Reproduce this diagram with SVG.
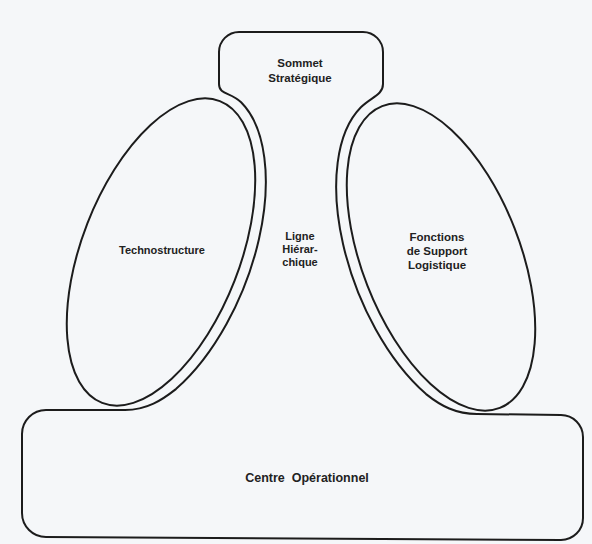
<svg xmlns="http://www.w3.org/2000/svg" width="592" height="544" viewBox="0 0 592 544">
  <style>
    .ln { fill: none; stroke: #1c1c1c; stroke-width: 2; stroke-linejoin: round; }
    .lbl { font-family: "Liberation Sans", Arial, sans-serif; font-weight: bold; fill: #222; text-anchor: middle; }
  </style>
  <rect x="0" y="0" width="592" height="544" fill="#f5f7f9"/>
  <g id="outline">
    <path class="ln" d="M 219,52 A 20 20 0 0 1 239,32 H 363 A 20 20 0 0 1 383,52 V 84 C 383,95 371,97.2 360.9,107.3 A 90 173 -21.3 0 0 426.1,394.1 C 441,406 456,414 477,414 L 561,415 A 22 22 0 0 1 583,437 V 518 A 22 22 0 0 1 561,540 L 46,537 A 24 24 0 0 1 22,513 V 434 A 24 24 0 0 1 46,410 H 125 C 147,410 162,400 175.9,389.1 A 90 173 21.3 0 0 241.1,102.3 C 231,92.2 219,95 219,84 Z"/>
  </g>
  <g id="sommet-strategique">
    <text class="lbl" x="300" y="67" font-size="11.5">Sommet</text>
    <text class="lbl" x="300" y="82" font-size="11.5">Stratégique</text>
  </g>
  <g id="ligne-hierarchique">
    <text class="lbl" x="300" y="240" font-size="11">Ligne</text>
    <text class="lbl" x="300" y="253" font-size="11">Hiérar-</text>
    <text class="lbl" x="300" y="266" font-size="11">chique</text>
  </g>
  <g id="technostructure">
    <ellipse class="ln" cx="161" cy="252" rx="79" ry="162" transform="rotate(21.3 161 252)"/>
    <text class="lbl" x="162" y="254" font-size="11">Technostructure</text>
  </g>
  <g id="support-logistique">
    <ellipse class="ln" cx="441" cy="257" rx="79" ry="162" transform="rotate(-21.3 441 257)"/>
    <text class="lbl" x="437" y="241" font-size="11.5">Fonctions</text>
    <text class="lbl" x="437" y="255" font-size="11.5">de Support</text>
    <text class="lbl" x="437" y="269" font-size="11.5">Logistique</text>
  </g>
  <g id="centre-operationnel">
    <text class="lbl" x="307" y="482" font-size="12.5" xml:space="preserve">Centre  Opérationnel</text>
  </g>
</svg>
